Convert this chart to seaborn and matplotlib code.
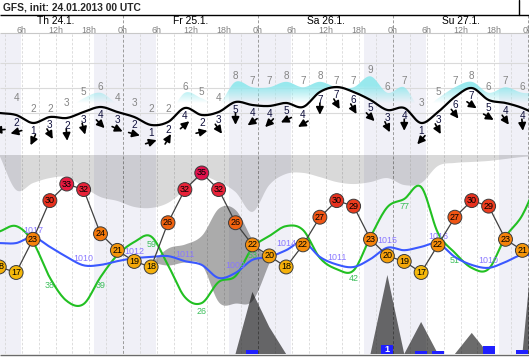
import numpy as np
import pandas as pd
import matplotlib
matplotlib.use("Agg")
import matplotlib.pyplot as plt
import seaborn as sns
from matplotlib.colors import LinearSegmentedColormap
from matplotlib.lines import Line2D
from matplotlib.transforms import offset_copy

# ---------------- data ----------------
title = "GFS, init: 24.01.2013 00 UTC"
hours = [2, 5, 8, 11, 14, 17, 20, 23, 26, 29, 32, 35, 38, 41, 44, 47,
         50, 53, 56, 59, 62, 65, 68, 71, 74, 77, 80, 83, 86, 89, 92, 95]
edge_hours = hours + [98]

temperature = [18, 17, 23, 30, 33, 32, 24, 21, 19, 18, 26, 32, 35, 32, 26, 22,
               20, 18, 22, 27, 30, 29, 23, 20, 19, 17, 22, 27, 30, 29, 23, 21]
wind_bft = [3, 2, 1, 3, 2, 3, 4, 3, 2, 1, 2, 4, 2, 3, 5, 4,
            4, 5, 4, 7, 7, 6, 5, 3, 4, 1, 3, 6, 7, 5, 4, 4]
wind_dir = [85, 75, 25, 330, 355, 345, 315, 295, 285, 252, 210, 230, 258, 325, 0, 55,
            45, 65, 60, 0, 330, 330, 315, 335, 0, 42, 332, 322, 304, 300, 325, 355]
wind_speed = [2.73, 2.36, 0.91, 2.0, 1.82, 2.91, 3.82, 2.91, 2.0, 0.55, 1.09, 3.64,
              2.36, 2.91, 4.73, 4.18, 4.0, 4.55, 3.82, 6.55, 7.45, 6.55, 5.09, 3.27,
              3.64, 0.91, 2.91, 5.64, 7.27, 5.09, 4.55, 3.64, 2.2]
gusts = [4, 4, 2, 2, 3, 5, 6, 4, 3, 2, 2, 6, 5, 4, 8, 7, 7, 8, 7, 8, 7, 7, 9, 6,
         7, 3, 5, 7, 8, 6, 7, 6, 6]
pressure = [1015.7, 1015.7, 1017.1, 1014.8, 1012.4, 1010.4, 1010.5, 1011.4, 1012.1,
            1012.4, 1012.6, 1011.4, 1010.5, 1007.4, 1008.6, 1011.7, 1012.4, 1014.0,
            1016.0, 1012.4, 1010.6, 1010.0, 1011.9, 1014.6, 1014.0, 1014.8, 1015.6,
            1012.4, 1010.5, 1009.8, 1011.2, 1012.9, 1012.4]
humidity = [61.0, 63.7, 55.9, 38.4, 27.0, 25.5, 38.7, 49.5, 55.9, 58.6, 44.6, 28.9,
            26.0, 36.3, 39.2, 53.0, 58.8, 63.7, 61.8, 48.1, 42.6, 42.0, 58.4, 73.0,
            77.0, 82.9, 60.3, 50.6, 43.2, 42.7, 58.4, 69.1, 88.0]
humidity_label_idx = [0, 3, 6, 9, 12, 15, 21, 24, 27]
pressure_label_idx = [2, 5, 8, 11, 14, 17, 20, 23, 26, 29]
high_cloud_base = [100, 82.4, 85.9, 88.4, 88.9, 83.9, 78.9, 76.9, 73.9, 73.4, 75.9,
                   82.4, 88.9, 86.4, 81.4, 71.4, 84.9, 90.5, 91.0, 88.9, 86.4, 85.4,
                   86.4, 88.4, 84.9, 85.9, 94.5, 96.0, 96.5, 97.0, 98.0, 99.0, 99.5]
nan = np.nan
mid_cloud_top = [nan] * 9 + [46.2, 53.3, 55.3, 59.8, 73.4, 72.4, 57.3, 46.2] + [nan] * 16
mid_cloud_base = [nan] * 9 + [46.2, 44.7, 46.2, 44.7, 26.1, 25.6, 27.1, 46.2] + [nan] * 16
precip_area = [0, 0, 0, 0, 0, 0, 0, 0, 0, 0, 0, 0, 0, 0, 0, 31.2, 13.6, 0, 0, 0, 0, 0,
               0, 39.7, 0, 16.1, 0, 0, 10.6, 0, 0, 0, 88]
precip_mm = [0, 0, 0, 0, 0, 0, 0, 0, 0, 0, 0, 0, 0, 0, 0, 0.45, 0, 0, 0, 0, 0, 0,
             0, 1.0, 0, 0.28, 0.28, 0, 0, 0.9, 0, 0.4]

day_labels = ["Th 24.1.", "Fr 25.1.", "Sa 26.1.", "Su 27.1."]
day_noon = [12, 36, 60, 84]
hour_ticks = [6, 12, 18, 24, 30, 36, 42, 48, 54, 60, 66, 72, 78, 84, 90, 96]
hour_tick_labels = ["6h", "12h", "18h", "0h"] * 4
night_start = [-5.2, 18.8, 42.8, 66.8, 90.8]
night_end = [5.8, 29.8, 53.8, 77.8, 101.8]

# ---------------- style ----------------
sns.set_style("white")
plt.rcParams['font.family'] = ['Liberation Sans', 'DejaVu Sans']

W, H = 529, 358
X0, X1 = 12 / 5.625, 541 / 5.625

fig = plt.figure(figsize=(W / 100, H / 100), dpi=100)
fig.patch.set_facecolor('white')


def band_axes(y_top, y_bottom):
    ax = fig.add_axes([0, 1 - y_bottom / H, 1, (y_bottom - y_top) / H])
    ax.set_facecolor('none')
    ax.set_axis_off()
    return ax


def smooth(x, y, n=12):
    x = np.asarray(x, float)
    y = np.asarray(y, float)
    yp = np.concatenate([[2 * y[0] - y[1]], y, [2 * y[-1] - y[-2]]])
    xs, ys = [], []
    t = np.linspace(0, 1, n, endpoint=False)
    for i in range(len(x) - 1):
        p0, p1, p2, p3 = yp[i], yp[i + 1], yp[i + 2], yp[i + 3]
        ys.append(0.5 * (2 * p1 + (-p0 + p2) * t + (2 * p0 - 5 * p1 + 4 * p2 - p3) * t ** 2
                         + (-p0 + 3 * p1 - 3 * p2 + p3) * t ** 3))
        xs.append(x[i] + (x[i + 1] - x[i]) * t)
    xs.append([x[-1]])
    ys.append([y[-1]])
    return np.concatenate(xs), np.concatenate(ys)


# ---------------- background / header ----------------
ax_bg = band_axes(0, H)
ax_bg.set_xlim(X0, X1)
ax_bg.set_ylim(H, 0)
for s, e in zip(night_start, night_end):
    ax_bg.fill_between([s, e], 33.5, 354, color='#f0f0f7', lw=0, zorder=0)
for h in range(0, 97, 3):
    if h % 24 == 0:
        ax_bg.vlines(h, 15, 354, colors='#9a9a9a', linestyles=(0, (3, 2)), lw=0.7, zorder=1)
    else:
        ax_bg.vlines(h, 33.5, 354, colors='#d8d8d8', linestyles=(0, (3, 2)), lw=0.6, zorder=1)
ax_bg.hlines([63, 88, 113], X0, X1, colors='#dadada', lw=0.8, zorder=1)
ax_bg.hlines(33.3, X0, X1, colors='#c8c8c8', lw=0.8, zorder=1)
ax_bg.hlines(14.5, X0, X1, colors='black', lw=1.0, zorder=3)
ax_bg.hlines(354.5, X0, X1, colors='#6a6a6a', lw=1.0, zorder=3)
fig.add_artist(Line2D([518.5 / W, 518.5 / W], [1, 1 - 14.5 / H], color='black', lw=1.0))
fig.text(3 / W, 1 - 8 / H, title, ha='left', va='center', fontsize=7.4, fontweight='bold')
for lab, h in zip(day_labels, day_noon):
    ax_bg.text(h, 21.5, lab, ha='center', va='center', fontsize=7.4, color='black')
for lab, h in zip(hour_tick_labels, hour_ticks):
    ax_bg.text(h, 30.5, lab, ha='center', va='center', fontsize=6.4, color='#808080')

# ---------------- wind panel ----------------
ax_w = band_axes(33, 150)
WLO, WHI = -4.0, 17.27
xs_w, ws = smooth(edge_hours, wind_speed)
_, gs = smooth(edge_hours, gusts)

wv = np.linspace(WLO, WHI, 300)
img = np.zeros((300, 1, 4))
img[..., 0] = 0.58
img[..., 1] = 0.91
img[..., 2] = 0.93
img[:, 0, 3] = np.clip((wv - 4.5) / 3.2, 0, 1) * 0.95
im = ax_w.imshow(img, extent=(X0, X1, WLO, WHI), origin='lower', aspect='auto',
                 interpolation='bilinear', zorder=1)
poly = ax_w.fill_between(xs_w, ws, np.maximum(gs + 0.4, ws), facecolor='none', edgecolor='none')
im.set_clip_path(poly.get_paths()[0], transform=ax_w.transData)

for h, g in zip(hours, gusts):
    ax_w.annotate(str(g), (h, g), xytext=(0, 8), textcoords='offset pixels',
                  ha='center', va='center', fontsize=7.2, color='#858585', zorder=2)

sns.lineplot(x=xs_w, y=ws, ax=ax_w, color='black', linewidth=1.6, sort=False,
             estimator=None, zorder=3)

for h, w, b in zip(hours, wind_speed, wind_bft):
    ax_w.annotate(str(b), (h, w), xytext=(0, -8), textcoords='offset pixels',
                  ha='center', va='center', fontsize=7.2, color='#10103c', zorder=4)

for h, w, d in zip(hours, wind_speed, wind_dir):
    th = np.deg2rad(270 - d)
    dx, dy = 5.8 * np.cos(th), 5.8 * np.sin(th)
    head = offset_copy(ax_w.transData, fig=fig, x=dx, y=-17 + dy, units='dots')
    tail = offset_copy(ax_w.transData, fig=fig, x=-dx, y=-17 - dy, units='dots')
    ax_w.annotate('', xy=(h, w), xycoords=head, xytext=(h, w), textcoords=tail,
                  arrowprops=dict(arrowstyle='-|>,head_length=0.5,head_width=0.25',
                                  color='black', lw=1.2, shrinkA=0, shrinkB=0,
                                  mutation_scale=9),
                  annotation_clip=False, zorder=4)
ax_w.set_xlim(X0, X1)
ax_w.set_ylim(WLO, WHI)

# ---------------- lower panel ----------------
ax_c = band_axes(155, 354)
xs_c, hc = smooth(edge_hours, high_cloud_base)
ax_c.fill_between(xs_c, np.minimum(hc, 100), 100, color='black', alpha=0.15, lw=0)
mt = np.array(mid_cloud_top, float)
mb = np.array(mid_cloud_base, float)
ok = ~np.isnan(mt)
hx = np.array(edge_hours, float)[ok]
xm, mts = smooth(hx, mt[ok])
_, mbs = smooth(hx, mb[ok])
ax_c.fill_between(xm, mbs, np.maximum(mts, mbs), color='black', alpha=0.33, lw=0)
ax_c.fill_between(edge_hours, 0, precip_area, color='black', alpha=0.58, lw=0)
ax_c.set_xlim(X0, X1)
ax_c.set_ylim(0, 100)

ax_r = ax_c.twinx()
ax_r.set_axis_off()
ax_r.bar(hours, precip_mm, width=2.1, color='#1f1fff', linewidth=0)
for h, v in zip(hours, precip_mm):
    if v >= 1:
        ax_r.text(h, v / 2, f"{v:.0f}", ha='center', va='center', color='white',
                  fontsize=6.5, fontweight='bold')
ax_r.set_ylim(0, 199 / 9)

ax_h = ax_c.twinx()
ax_h.set_axis_off()
xs_h, hs = smooth(edge_hours, humidity)
sns.lineplot(x=xs_h, y=hs, ax=ax_h, color='#22c022', linewidth=1.5, sort=False, estimator=None)
for i in humidity_label_idx:
    ax_h.annotate(f"{round(humidity[i]):d}", (edge_hours[i], humidity[i]), xytext=(0, -8),
                  textcoords='offset pixels', ha='center', va='center', fontsize=6.4,
                  color='#3cbf5a')
ax_h.set_ylim(1.0, 98.55)

ax_p = ax_c.twinx()
ax_p.set_axis_off()
xs_p, ps = smooth(edge_hours, pressure)
sns.lineplot(x=xs_p, y=ps, ax=ax_p, color='#3a58ff', linewidth=1.5, sort=False, estimator=None)
for i in pressure_label_idx:
    ax_p.annotate(f"{round(pressure[i]):d}", (edge_hours[i], pressure[i]), xytext=(0, 7),
                  textcoords='offset pixels', ha='center', va='center', fontsize=6.4,
                  color='#8a78ff')
ax_p.set_ylim(989.29, 1036.67)

ax_t = ax_c.twinx()
ax_t.set_axis_off()
tdf = pd.DataFrame({"hour": hours, "temp": temperature})
tcmap = LinearSegmentedColormap.from_list(
    "temp", [(0.0, '#f5b80a'), (3 / 18, '#f5a00a'), (5 / 18, '#f58c0a'),
             (7 / 18, '#f5780a'), (9 / 18, '#f0620f'), (10 / 18, '#f05514'),
             (12 / 18, '#ec3c1e'), (13 / 18, '#e8301e'), (15 / 18, '#e82238'),
             (16 / 18, '#e81a40'), (1.0, '#e0104c')])
sns.lineplot(data=tdf, x="hour", y="temp", ax=ax_t, color='#404040', linewidth=0.9,
             sort=False, estimator=None)
sns.scatterplot(data=tdf, x="hour", y="temp", hue="temp", palette=tcmap, hue_norm=(17, 35),
                s=100, edgecolor='#3a3a3a', linewidth=0.7, legend=False, ax=ax_t, zorder=4)
for h, t in zip(hours, temperature):
    ax_t.text(h, t, str(t), ha='center', va='center', fontsize=6.5, color='black', zorder=5)
ax_t.set_ylim(2.26, 38.25)

for a in (ax_c, ax_r, ax_h, ax_p, ax_t):
    a.set_xlim(X0, X1)

fig.savefig("out.png", dpi=100)
